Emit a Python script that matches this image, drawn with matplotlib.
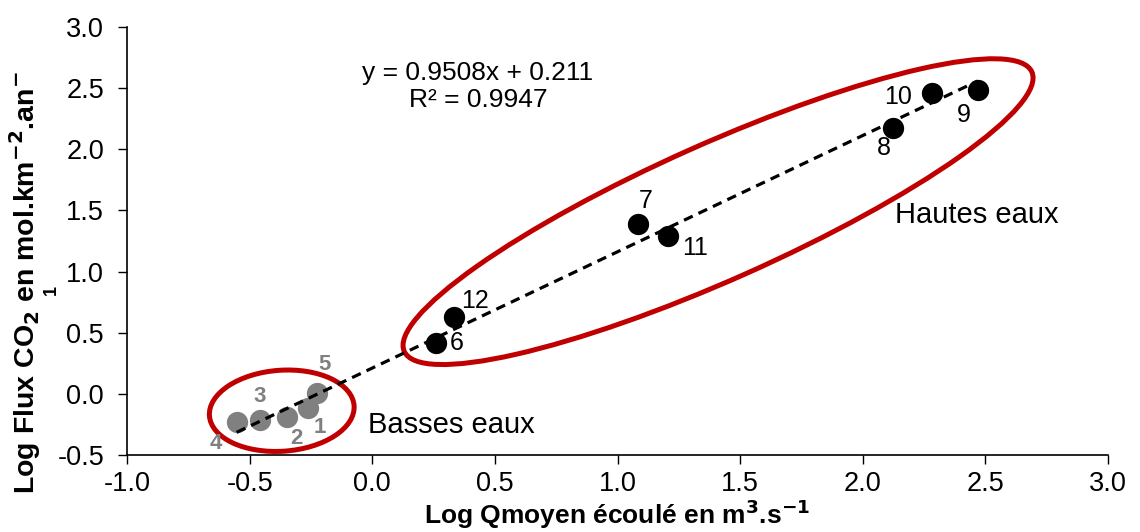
import numpy as np
import matplotlib
matplotlib.use("Agg")
import matplotlib.pyplot as plt
from matplotlib.patches import Ellipse
import matplotlib.transforms as mtransforms

plt.rcParams['font.family'] = ['Liberation Sans', 'DejaVu Sans']

# Data
low_labels = ["1", "2", "3", "4", "5"]
low_x = [-0.261, -0.349, -0.458, -0.553, -0.227]
low_y = [-0.118, -0.186, -0.213, -0.227, 0.005]

high_labels = ["6", "7", "8", "9", "10", "11", "12"]
high_x = [0.259, 1.085, 2.124, 2.469, 2.281, 1.205, 0.335]
high_y = [0.414, 1.387, 2.171, 2.485, 2.463, 1.291, 0.626]

slope = 0.9508
intercept = 0.211
r2 = 0.9947

xticks = [-1.0, -0.5, 0.0, 0.5, 1.0, 1.5, 2.0, 2.5, 3.0]
yticks = [-0.5, 0.0, 0.5, 1.0, 1.5, 2.0, 2.5, 3.0]

# label offsets in points
low_off = {"1": (8, -14), "2": (7, -16), "3": (0, 17), "4": (-15, -16), "5": (6, 21)}
high_off = {"6": (15, 0), "7": (5, 17), "8": (-7, -14), "9": (-10, -18),
            "10": (-24, -3), "11": (20, -9), "12": (15, 12)}

W, H = 1140, 532
fig = plt.figure(figsize=(W / 100, H / 100), dpi=100)
ax = fig.add_axes([127 / W, 1 - 455 / H, (1108 - 127) / W, (455 - 27) / H])

ax.set_xlim(-1.0, 3.0)
ax.set_ylim(-0.5, 3.0)
ax.set_xticks(xticks)
ax.set_yticks(yticks)
ax.set_xticklabels([f"{v:.1f}" for v in xticks])
ax.set_yticklabels([f"{v:.1f}" for v in yticks])
for s in ["top", "right"]:
    ax.spines[s].set_visible(False)
for s in ["left", "bottom"]:
    ax.spines[s].set_linewidth(1.2)
    ax.spines[s].set_color("#000000")
ax.tick_params(direction="out", length=6.5, width=1.0, labelsize=19.5)
ax.tick_params(axis="x", pad=5)
ax.tick_params(axis="y", pad=10)

# Ellipses (drawn in display-isotropic units)
def add_ellipse(cx, cy, w_in, h_in, ang):
    tr = fig.dpi_scale_trans + mtransforms.ScaledTranslation(cx, cy, ax.transData)
    e = Ellipse((0, 0), w_in, h_in, angle=ang, transform=tr, fill=False,
                edgecolor="#C00000", linewidth=3.6, zorder=1, clip_on=False)
    ax.add_patch(e)

add_ellipse(1.41, 1.49, 6.87, 1.36, 24.0)
add_ellipse(-0.369, -0.138, 1.45, 0.81, 4.0)

# Points
ax.scatter(low_x, low_y, s=235, color="#808080", zorder=3, linewidths=0)
ax.scatter(high_x, high_y, s=235, color="#000000", zorder=3, linewidths=0)

# Trendline
allx = np.array(low_x + high_x)
xl = np.array([allx.min(), allx.max()])
ax.plot(xl, slope * xl + intercept, color="black", linestyle=(0, (3, 2)),
        linewidth=2.3, zorder=4)

for lab, x, y in zip(low_labels, low_x, low_y):
    ax.annotate(lab, (x, y), xytext=low_off[lab], textcoords="offset points",
                ha="center", va="center", fontsize=16, fontweight="bold",
                color="#808080", zorder=5)
for lab, x, y in zip(high_labels, high_x, high_y):
    ax.annotate(lab, (x, y), xytext=high_off[lab], textcoords="offset points",
                ha="center", va="center", fontsize=18, color="black", zorder=5)

ax.text(0.431, 2.513, f"y = {slope}x + {intercept}\nR² = {r2}", ha="center",
        va="center", fontsize=19, linespacing=1.2, multialignment="center")
ax.text(2.131, 1.463, "Hautes eaux", ha="left", va="center", fontsize=21)
ax.text(-0.017, -0.254, "Basses eaux", ha="left", va="center", fontsize=21)

fig.text(617.5 / W, 1 - 524 / H,
         "Log Qmoyen écoulé en m$^{\\mathbf{3}}$.s$^{\\mathbf{-1}}$",
         ha="center", va="baseline", fontsize=19, fontweight="bold")

fig.text(25 / W, 1 - 283 / H, "Log Flux CO$_{\\mathbf{2}}$ en mol.km$^{\\mathbf{-2}}$.an$^{\\mathbf{-}}$",
         rotation=90, ha="center", va="center", fontsize=20.5, fontweight="bold")
fig.text(51 / W, 1 - 290 / H, "1", rotation=90, ha="center", va="center",
         fontsize=13, fontweight="bold")

fig.savefig("out.png", dpi=100)
